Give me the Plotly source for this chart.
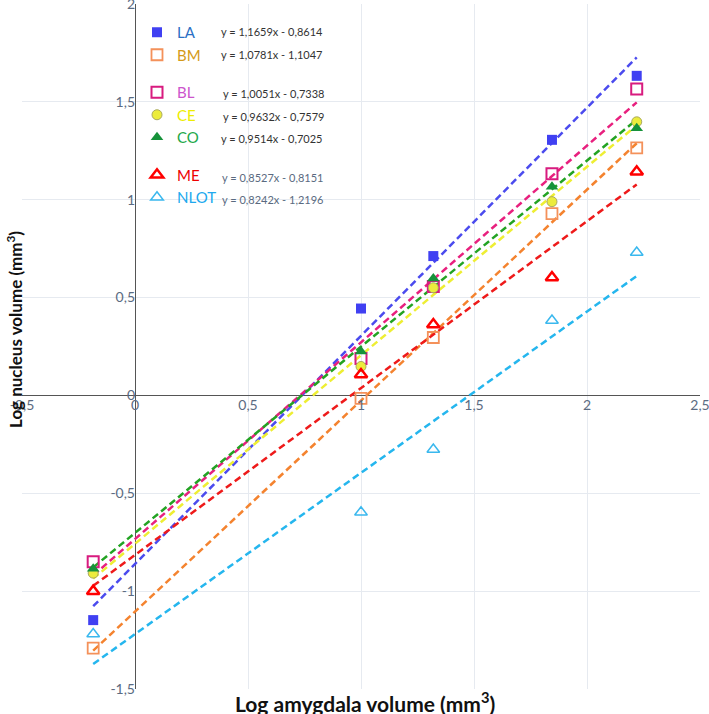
import plotly.graph_objects as go

# ---------------- data ----------------
series_names = ["LA", "BM", "BL", "CE", "CO", "ME", "NLOT"]
x_vals = [-0.185, 1.0, 1.32, 1.845, 2.22]
LA = [-1.148, 0.444, 0.712, 1.306, 1.633]
BM = [-1.291, -0.015, 0.296, 0.929, 1.265]
BL = [-0.850, 0.189, 0.556, 1.133, 1.566]
CE = [-0.908, 0.148, 0.550, 0.990, 1.398]
CO = [-0.885, 0.224, 0.597, 1.066, 1.365]
ME = [-1.000, 0.107, 0.362, 0.602, 1.143]
NLOT = [-1.219, -0.597, -0.276, 0.383, 0.730]
slopes = [1.1659, 1.0781, 1.0051, 0.9632, 0.9514, 0.8527, 0.8242]
intercepts = [-0.8614, -1.1047, -0.7338, -0.7579, -0.7025, -0.8151, -1.2196]

x_tick_vals = [-0.5, 0, 0.5, 1, 1.5, 2, 2.5]
x_tick_text = ["-0,5", "0", "0,5", "1", "1,5", "2", "2,5"]
y_tick_vals = [-1.5, -1, -0.5, 0, 0.5, 1, 1.5, 2]
y_tick_text = ["-1,5", "-1", "-0,5", "0", "0,5", "1", "1,5", "2"]

series_values = [LA, BM, BL, CE, CO, ME, NLOT]

# ---------------- styles ----------------
line_colors = ["#4b4bee", "#f4832f", "#e8207e", "#eeee33", "#23a323", "#ee1a1a", "#25b6ee"]
marker_styles = [
    dict(symbol="square", color="#4040f2", size=10, line=dict(width=0)),
    dict(symbol="square-open", color="#f4915a", size=11, line=dict(width=1.8)),
    dict(symbol="square-open", color="#d81b7f", size=11, line=dict(width=2)),
    dict(symbol="circle", color="#ecec3c", size=10, line=dict(width=1, color="#a9a960")),
    dict(symbol="triangle-up", color="#16923a", size=11, line=dict(width=0)),
    dict(symbol="triangle-up-open", color="#ff0000", size=11, line=dict(width=2.5)),
    dict(symbol="triangle-up-open", color="#3ab8ee", size=11, line=dict(width=1.5)),
]
name_colors = ["#2b6fc4", "#d49a18", "#cc55cc", "#eded00", "#1ea84a", "#ee0000", "#20a8ee"]
eq_colors = ["#333333"] * 5 + ["#5a6a80"] * 2
groups = ["g1", "g1", "g2", "g2", "g2", "g3", "g3"]
FONT = "Lato"

fig = go.Figure()

# regression lines
xmin, xmax = min(x_vals), max(x_vals)
for i, nm in enumerate(series_names):
    fig.add_trace(go.Scatter(
        x=[xmin, xmax],
        y=[slopes[i] * xmin + intercepts[i], slopes[i] * xmax + intercepts[i]],
        mode="lines", line=dict(color=line_colors[i], width=2.5, dash="7px,4px"),
        showlegend=False, hoverinfo="skip"))

# data markers
for i, nm in enumerate(series_names):
    fig.add_trace(go.Scatter(
        x=x_vals, y=series_values[i], mode="markers", marker=marker_styles[i],
        name=f"<span style='color:{name_colors[i]}'>{nm}</span>",
        legendgroup=groups[i]))

# equations as text
L, R, T, B = 22, 9, 4, 25
W, H = 709 - L - R, 714 - T - B
def px(x):
    return (x - L) / W
def py(y):
    return (714 - B - y) / H

eq_rows = [32, 55, 93, 116, 138, 177, 199]
eq_x = [219, 219, 221, 221, 219, 220, 220]
def fmt(v):
    return f"{abs(v):.4f}".replace(".", ",")
for i in range(len(series_names)):
    sign = "-" if intercepts[i] < 0 else "+"
    fig.add_annotation(
        x=px(eq_x[i]), y=py(eq_rows[i]), xref="paper", yref="paper",
        xanchor="left", yanchor="middle", showarrow=False,
        text=f"y = {fmt(slopes[i])}x {sign} {fmt(intercepts[i])}",
        font=dict(family=FONT, size=11, color=eq_colors[i]))

# axis titles
fig.add_annotation(x=px(365), y=py(702), xref="paper", yref="paper", showarrow=False,
                   xanchor="center", yanchor="middle",
                   text="<b>Log amygdala volume (mm<sup>3</sup>)</b>",
                   font=dict(family=FONT, size=21, color="#111111"))
fig.add_annotation(x=px(14), y=py(330), xref="paper", yref="paper", showarrow=False,
                   xanchor="center", yanchor="middle", textangle=-90,
                   text="<b>Log nucleus volume (mm<sup>3</sup>)</b>",
                   font=dict(family=FONT, size=17, color="#111111"))

grid_c = "#e6eaf0"
fig.update_layout(
    width=709, height=714,
    margin=dict(l=L, r=R, t=T, b=B),
    plot_bgcolor="white", paper_bgcolor="white",
    separators=", ",
    font=dict(family=FONT),
    xaxis=dict(range=[-0.5, 2.5], tickvals=x_tick_vals, ticktext=x_tick_text,
               anchor="free", position=1.5 / 3.5, side="bottom",
               showgrid=True, gridcolor=grid_c, gridwidth=1,
               zeroline=True, zerolinecolor="#555555", zerolinewidth=1,
               showline=False, ticks="", automargin=False, ticklabeloverflow="allow",
               tickfont=dict(family=FONT, size=14, color="#5b6b82")),
    yaxis=dict(range=[-1.5, 2], tickvals=y_tick_vals, ticktext=y_tick_text,
               anchor="free", position=0.5 / 3.0, side="left",
               showgrid=True, gridcolor=grid_c, gridwidth=1,
               zeroline=True, zerolinecolor="#555555", zerolinewidth=1,
               showline=False, ticks="", automargin=False, ticklabeloverflow="allow",
               tickfont=dict(family=FONT, size=14, color="#5b6b82")),
    showlegend=True,
    legend=dict(x=px(137), y=py(16), xanchor="left", yanchor="top",
                bgcolor="rgba(0,0,0,0)", traceorder="grouped", tracegroupgap=15,
                font=dict(family=FONT, size=15)),
)

fig.write_html("out.html", config={"displayModeBar": False},
               post_script="document.body.style.margin='0';")
